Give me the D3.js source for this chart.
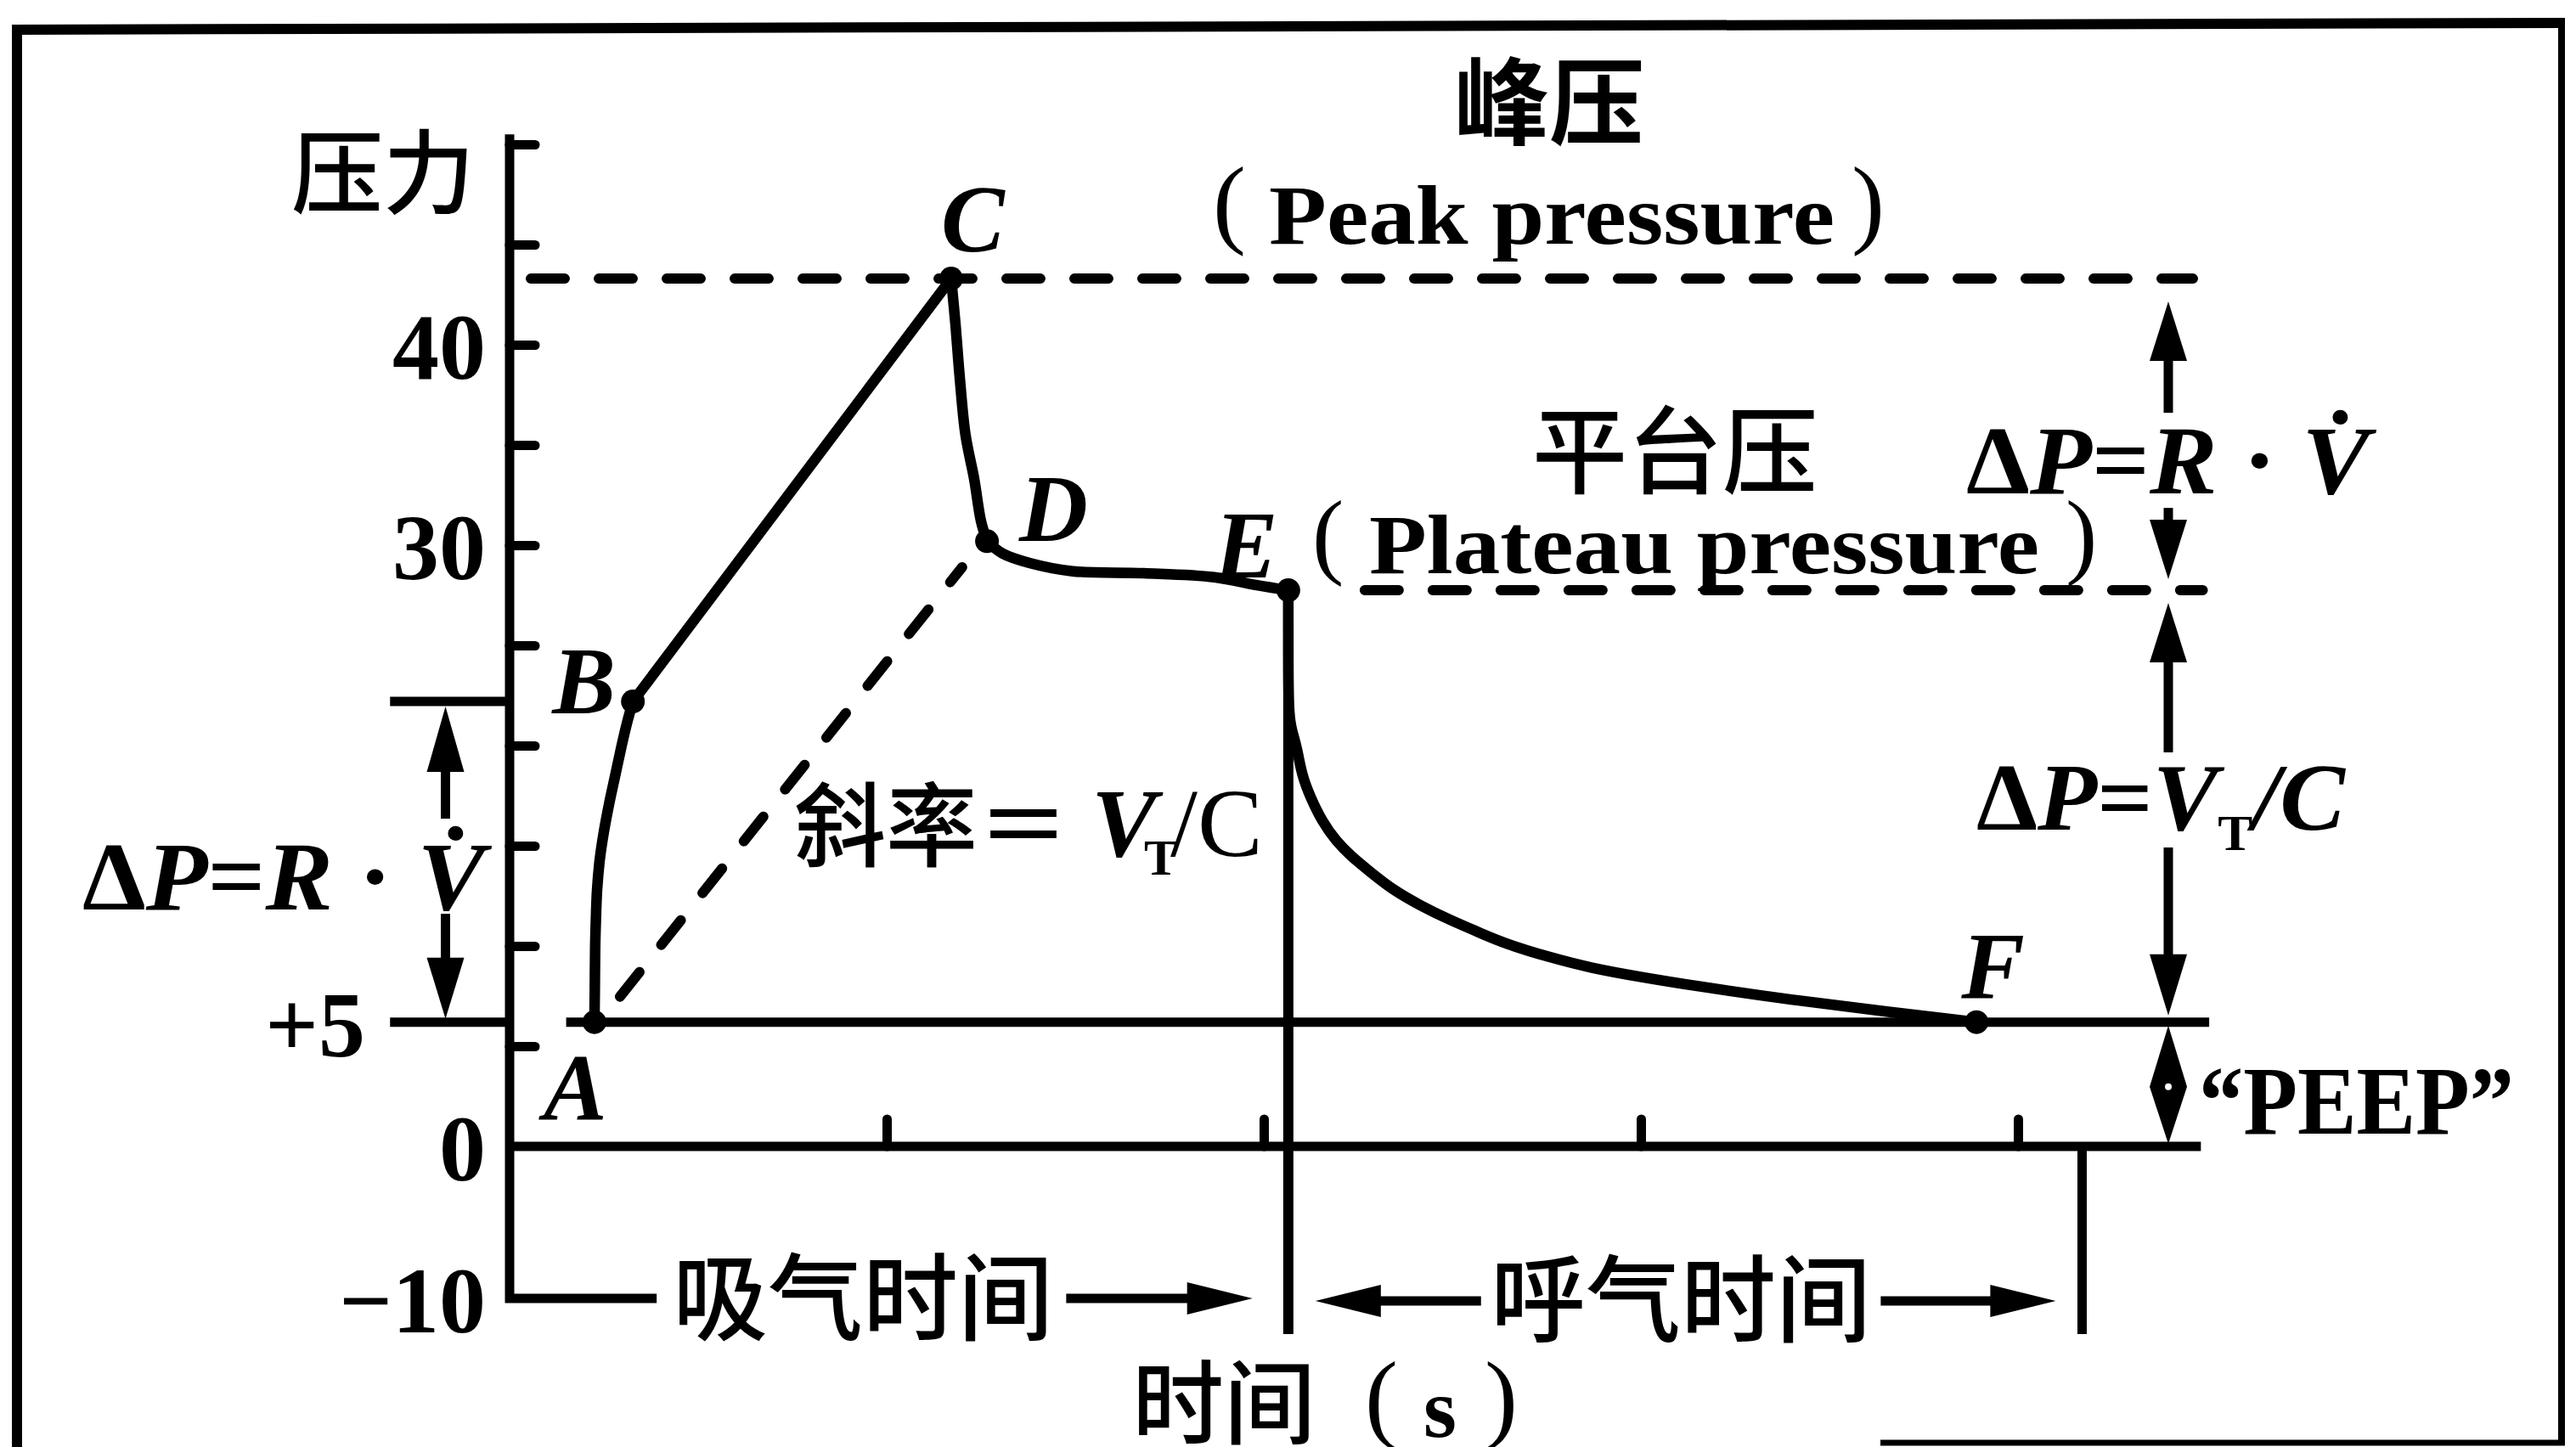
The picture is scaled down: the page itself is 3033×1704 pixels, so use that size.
<!DOCTYPE html>
<html><head><meta charset="utf-8">
<script src="https://cdn.jsdelivr.net/npm/d3@7"></script>
<style>html,body{margin:0;padding:0;background:#fff;} svg{display:block}</style>
</head><body>
<svg id="c" width="3033" height="1704"></svg>
<script>
// ---------------- data (time in s, pressure in cmH2O) ----------------
const timeTicks = [1, 2, 3, 4];
const pressureTicks = [5, 10, 15, 20, 25, 30, 35, 40, 45, 50];
const pressureTickLabels = [40, 30, 0, -10];
const peepLevel = 6.2;          // level of the "+5" PEEP line as drawn
const peepLabel = "+5";
const pointNames = ["A", "B", "C", "D", "E", "F"];
const pointTimes = [0.225, 0.327, 1.171, 1.266, 2.065, 3.89];
const pointPressures = [6.2, 22.2, 43.3, 30.2, 27.75, 6.2];
const riseAB = [[0.225,6.2],[0.226,7.9],[0.227,10.0],[0.229,11.4],[0.232,12.8],[0.239,14.3],[0.25,15.7],[0.264,17.1],[0.28,18.5],[0.296,19.9],[0.311,21.1],[0.327,22.2]];
const riseBC = [[0.327,22.2],[1.171,43.3]];
const fallCD = [[1.171,43.3],[1.182,41.1],[1.194,38.3],[1.209,35.5],[1.232,33.3],[1.25,31.2],[1.266,30.2]];
const plateauDE = [[1.266,30.2],[1.306,29.6],[1.381,29.1],[1.493,28.7],[1.682,28.6],[1.869,28.4],[1.982,28.0],[2.065,27.75]];
const decayEF = [[2.065,27.75],[2.065,24.0],[2.066,21.5],[2.075,20.7],[2.088,19.9],[2.101,18.5],[2.124,17.4],[2.155,16.2],[2.191,15.25],[2.23,14.5],[2.282,13.7],[2.342,12.8],[2.417,12.0],[2.493,11.3],[2.568,10.7],[2.642,10.1],[2.755,9.45],[2.867,8.9],[3.0,8.45],[3.146,8.0],[3.403,7.3],[3.662,6.7],[3.89,6.2]];
const slopeLine = [[0.225,6.2],[1.2,28.9]];
const inspirationEnd = 2.065;
const expirationEnd = 4.17;
const axisEndTime = 4.485;

// ---------------- scales ----------------
const x = d3.scaleLinear().domain([0, 4]).range([600, 2376]);
const y = d3.scaleLinear().domain([-10, 0, 50]).range([1529, 1350, 170]);

const SERIF = "'Liberation Serif','Times New Roman',serif";
const CJK = "'Noto Sans CJK SC','Noto Sans CJK JP',sans-serif";
const svg = d3.select("#c");
const W = 11;

// ---------------- frame ----------------
const frame = svg.append("g").attr("stroke", "#000").attr("fill", "none");
frame.append("line").attr("x1", 14).attr("y1", 35).attr("x2", 3020).attr("y2", 27).attr("stroke-width", 12);
frame.append("line").attr("x1", 20).attr("y1", 30).attr("x2", 20).attr("y2", 1704).attr("stroke-width", 12);
frame.append("line").attr("x1", 3016).attr("y1", 24).attr("x2", 3016).attr("y2", 1702).attr("stroke-width", 8);
frame.append("line").attr("x1", 2214).attr("y1", 1699).attr("x2", 3020).attr("y2", 1699).attr("stroke-width", 7);

// ---------------- axes ----------------
const gy = svg.append("g").attr("transform", `translate(${x(0)},0)`)
  .call(d3.axisRight(y).tickValues(pressureTicks).tickSize(30).tickSizeOuter(0).tickFormat(""));
gy.select(".domain").remove();
gy.selectAll(".tick line").attr("stroke", "#000").attr("stroke-width", W).attr("stroke-linecap", "round");

const gx = svg.append("g").attr("transform", `translate(0,${y(0)})`)
  .call(d3.axisTop(x).tickValues(timeTicks).tickSize(32).tickSizeOuter(0).tickFormat(""));
gx.select(".domain").remove();
gx.selectAll(".tick line").attr("stroke", "#000").attr("stroke-width", W).attr("stroke-linecap", "round");

const axes = svg.append("g").attr("stroke", "#000").attr("fill", "none").attr("stroke-width", W);
// y axis down to -10, then the "——" leading the inspiration arrow
axes.append("path").attr("d", `M${x(0)},${y(50.5)}V${y(-10)}H${x(0.39)}`).attr("stroke-linejoin", "miter");
// x axis
axes.append("line").attr("x1", x(0)).attr("x2", x(axisEndTime)).attr("y1", y(0)).attr("y2", y(0));
// PEEP baseline
axes.append("line").attr("x1", x(0.15)).attr("x2", x(4.507)).attr("y1", y(peepLevel)).attr("y2", y(peepLevel));
axes.append("line").attr("x1", x(-0.317)).attr("x2", x(0)).attr("y1", y(peepLevel)).attr("y2", y(peepLevel));
// B level reference line left of the axis
axes.append("line").attr("x1", x(-0.317)).attr("x2", x(0)).attr("y1", y(pointPressures[1])).attr("y2", y(pointPressures[1]));
// end of inspiration / expiration markers
axes.append("line").attr("x1", x(inspirationEnd)).attr("x2", x(inspirationEnd)).attr("y1", y(pointPressures[4])).attr("y2", y(-10) + 42).attr("stroke-width", 12);
axes.append("line").attr("x1", x(expirationEnd)).attr("x2", x(expirationEnd)).attr("y1", y(0)).attr("y2", y(-10) + 42);

// ---------------- dashed reference lines ----------------
const dash = svg.append("g").attr("stroke", "#000").attr("fill", "none").attr("stroke-width", 12)
  .attr("stroke-linecap", "round");
dash.append("line").attr("x1", x(0.045)).attr("x2", x(4.464)).attr("y1", y(pointPressures[2])).attr("y2", y(pointPressures[2]))
  .attr("stroke-dasharray", "40,40").attr("stroke-dashoffset", -5);
dash.append("line").attr("x1", x(pointTimes[4]) + 90).attr("x2", x(4.49)).attr("y1", y(pointPressures[4])).attr("y2", y(pointPressures[4]))
  .attr("stroke-dasharray", "40,40");
dash.append("line").attr("x1", x(slopeLine[0][0]) + 30).attr("y1", y(slopeLine[0][1]) - 30)
  .attr("x2", x(slopeLine[1][0])).attr("y2", y(slopeLine[1][1]))
  .attr("stroke-dasharray", "37,41");

// ---------------- pressure curve ----------------
const line = d3.line().x(d => x(d[0])).y(d => y(d[1])).curve(d3.curveCatmullRom.alpha(0.5));
const smooth = d3.line().x(d => x(d[0])).y(d => y(d[1])).curve(d3.curveBasis);
const curves = svg.append("g").attr("stroke", "#000").attr("fill", "none").attr("stroke-width", 12.5)
  .attr("stroke-linecap", "round").attr("stroke-linejoin", "round");
[riseAB, riseBC, fallCD, plateauDE].forEach(s => curves.append("path").attr("d", line(s)));
curves.append("path").attr("d", smooth(decayEF));

svg.append("g").selectAll("circle").data(pointNames).join("circle")
  .attr("cx", (d, i) => x(pointTimes[i])).attr("cy", (d, i) => y(pointPressures[i])).attr("r", 14).attr("fill", "#000");

// ---------------- arrows ----------------
function arrow(x1, y1, x2, y2, len, hw) {
  const dx = x2 - x1, dy = y2 - y1, L = Math.hypot(dx, dy), ux = dx / L, uy = dy / L;
  const bx = x2 - ux * len, by = y2 - uy * len;
  svg.append("line").attr("x1", x1).attr("y1", y1).attr("x2", bx + ux * 4).attr("y2", by + uy * 4)
    .attr("stroke", "#000").attr("stroke-width", W);
  svg.append("path").attr("d", `M${x2},${y2}L${bx - uy * hw},${by + ux * hw}L${bx + uy * hw},${by - ux * hw}Z`).attr("fill", "#000");
}
const ax = 2553;
arrow(ax, y(pointPressures[2]) + 158, ax, y(pointPressures[2]) + 27, 70, 22);
arrow(ax, y(pointPressures[2]) + 270, ax, y(pointPressures[4]) - 13, 70, 22);
arrow(ax, y(pointPressures[4]) + 191, ax, y(pointPressures[4]) + 15, 70, 22);
arrow(ax, y(pointPressures[4]) + 303, ax, y(peepLevel) - 8, 72, 22);
// PEEP double head
const mid = (y(peepLevel) + y(0)) / 2 + 3;
svg.append("path").attr("d", `M${ax},${y(peepLevel) + 4}L${ax - 22},${mid}L${ax},${y(0) - 3}L${ax + 22},${mid}Z`).attr("fill", "#000");
svg.append("circle").attr("cx", ax).attr("cy", mid).attr("r", 4).attr("fill", "#fff");
// left ΔP arrows
const lx = x(-0.17);
arrow(lx, y(pointPressures[1]) + 138, lx, y(pointPressures[1]) + 6, 77, 22);
arrow(lx, y(pointPressures[1]) + 250, lx, y(peepLevel) - 4, 72, 22);
// bottom time arrows
arrow(x(1.476), y(-10), x(1.97), y(-10), 77, 19);
arrow(x(2.576), y(-10) + 3, x(2.137), y(-10) + 3, 77, 19);
arrow(x(3.636), y(-10) + 3, x(4.1), y(-10) + 3, 77, 19);

// ---------------- text ----------------
function t(str, xx, yy, o = {}) {
  const el = svg.append("text").attr("x", xx).attr("y", yy)
    .attr("font-family", o.cjk ? CJK : SERIF).attr("font-size", o.size || 110)
    .attr("font-weight", o.weight || "bold").attr("font-style", o.italic ? "italic" : "normal")
    .attr("text-anchor", o.anchor || "start").attr("fill", "#000").text(str);
  if (o.len) el.attr("textLength", o.len).attr("lengthAdjust", "spacingAndGlyphs");
  return el;
}
// axis labels
t("压力", 343, 243, {cjk: true, size: 108, weight: 500});
pressureTickLabels.forEach(v => t(v < 0 ? "−" + Math.abs(v) : String(v), 572, y(v) + 40, {anchor: "end", size: 110}));
t(peepLabel, 430, y(peepLevel) + 40, {anchor: "end", size: 110});
// point labels
const labelOffsets = {A: [-60, 115], B: [-95, 14], C: [-12, -32], D: [38, 0], E: [-87, -15], F: [-18, -28]};
pointNames.forEach((n, i) => t(n, x(pointTimes[i]) + labelOffsets[n][0], y(pointPressures[i]) + labelOffsets[n][1], {italic: true, size: 112}));

// peak pressure
t("峰压", 1824, 162, {cjk: true, size: 112, weight: 700, anchor: "middle"});
t("(", 1428, 277, {size: 117, weight: "normal"});
t("Peak pressure", 1494, 287, {size: 100, len: 666});
t(")", 2180, 277, {size: 117, weight: "normal"});
// plateau pressure
t("平台压", 1972, 573, {cjk: true, size: 112, weight: 500, anchor: "middle"});
t("(", 1545, 667, {size: 112, weight: "normal"});
t("Plateau pressure", 1612, 675, {size: 100, len: 789});
t(")", 2432, 667, {size: 112, weight: "normal"});

// formula helper with tspans
function formula(xx, yy, len, size, parts) {
  const el = svg.append("text").attr("x", xx).attr("y", yy).attr("font-family", SERIF).attr("font-size", size)
    .attr("font-weight", "bold").attr("fill", "#000");
  parts.forEach(p => {
    const s = el.append("tspan").text(p[0]);
    if (p[1] === "i") s.attr("font-style", "italic");
    if (p[2]) s.attr("font-size", p[2]);
    if (p[3]) s.attr("dy", p[3]);
  });
  if (len) el.attr("textLength", len).attr("lengthAdjust", "spacingAndGlyphs");
  return el;
}
formula(2315, 581, 475, 115, [["Δ"], ["P", "i"], ["="], ["R", "i"], [" · "], ["V̇", "i"]]);
formula(2327, 977, 434, 112, [["Δ"], ["P", "i"], ["="], ["V", "i"], ["T", "", 60, 24], ["/", "i", 112, -24], ["C", "i"]]);
formula(97, 1071, 474, 115, [["Δ"], ["P", "i"], ["="], ["R", "i"], [" · "], ["V̇", "i"]]);
t("“PEEP”", 2589, 1335, {size: 115, len: 371});

// slope annotation
t("斜率＝", 935, 1012, {cjk: true, size: 108, weight: 500});
t("V", 1285, 1008, {italic: true, size: 115});
t("T", 1347, 1030, {size: 60});
t("/C", 1378, 1008, {size: 115, weight: "normal"});

// time labels
t("吸气时间", 792, 1570, {cjk: true, size: 112, weight: 500});
t("呼气时间", 1755, 1572, {cjk: true, size: 112, weight: 500});
t("时间", 1333, 1692, {cjk: true, size: 108, weight: 500});
t("(", 1607, 1684, {size: 117, weight: "normal"});
t("s", 1676, 1692, {size: 100});
t(")", 1748, 1684, {size: 117, weight: "normal"});
</script>
</body></html>
